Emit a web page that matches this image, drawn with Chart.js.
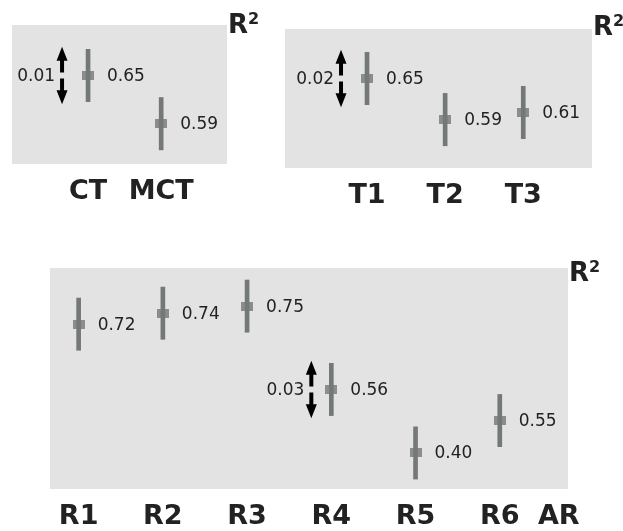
<!DOCTYPE html>
<html>
<head>
<meta charset="utf-8">
<script src="https://cdn.jsdelivr.net/npm/chart.js@4.4.1/dist/chart.umd.min.js"></script>
<style>
    html, body { margin: 0; padding: 0; background: #fff; width: 623px; height: 531px; overflow: hidden; position: relative; }
    canvas { position: absolute; }
</style>
</head>
<body>
<canvas id="p1" width="270" height="219" style="left:0;top:0"></canvas>
<canvas id="p2" width="353" height="223" style="left:270px;top:0"></canvas>
<canvas id="p3" width="623" height="304" style="left:0;top:240px"></canvas>
<script>
// panel 1
const ctCats = ['CT', 'MCT']
const ctSlots = [0, 1]
const ctLevel = [3.38, 1.54]
const ctR2 = [0.65, 0.59]

// panel 2
const tCats = ['T1', 'T2', 'T3']
const tSlots = [0, 1, 2]
const tLevel = [3.42, 1.85, 2.12]
const tR2 = [0.65, 0.59, 0.61]

// panel 3 (AR has no estimate)
const rCats = ['R1', 'R2', 'R3', 'R4', 'R5', 'R6', 'AR']
const rSlots = [0, 1, 2, 3, 4, 5, 5.7]
const rLevel = [6.31, 6.73, 7.0, 3.81, 1.38, 2.62]
const rR2 = [0.72, 0.74, 0.75, 0.56, 0.40, 0.55]

// error bar half width, same unit as the levels
const spread = 1

// R² differences marked with the double arrow
const diffLabels = ['0.01', '0.02', '0.03']
const diffIndex = [0, 0, 3]

const FONT = '"DejaVu Sans", Verdana, sans-serif'
const INK = '#222'

// flat grey marker, a bit wider than tall
const marker = document.createElement('canvas')
marker.width = 12
marker.height = 9
const mctx = marker.getContext('2d')
mctx.fillStyle = '#8c8c8c'
mctx.fillRect(0, 0, 12, 9)

const panelDecor = {
    id: 'panelDecor',
    beforeDraw: (chart) => {
        const { ctx, chartArea: a } = chart
        ctx.save()
        ctx.fillStyle = '#e3e3e3'
        ctx.fillRect(a.left, a.top, a.right - a.left, a.bottom - a.top)
        ctx.restore()
    },
    afterDatasetsDraw: (chart, args, opts) => {
        const { ctx, chartArea: a, scales: { x, y } } = chart
        const points = chart.getDatasetMeta(1).data
        ctx.save()

        // R² value next to each estimate
        ctx.font = `17px ${FONT}`
        ctx.fillStyle = INK
        ctx.textBaseline = 'middle'
        ctx.textAlign = 'left'
        points.forEach((pt, i) => ctx.fillText(opts.values[i].toFixed(2), pt.x + 19, pt.y + 1))

        // double arrow with the difference
        const i = opts.diffAt
        const ax = x.getPixelForValue(opts.slots[i]) - opts.gap
        const top = y.getPixelForValue(opts.levels[i] + spread * 1.1)
        const bot = y.getPixelForValue(opts.levels[i] - spread * 1.1)
        const mid = (top + bot) / 2
        ctx.strokeStyle = '#000'
        ctx.fillStyle = '#000'
        ctx.lineWidth = 4
        ctx.beginPath()
        ctx.moveTo(ax, top + 10)
        ctx.lineTo(ax, mid - 3)
        ctx.moveTo(ax, mid + 3)
        ctx.lineTo(ax, bot - 10)
        ctx.stroke()
        ctx.beginPath()
        ctx.moveTo(ax, top)
        ctx.lineTo(ax - 5.5, top + 14)
        ctx.lineTo(ax + 5.5, top + 14)
        ctx.closePath()
        ctx.moveTo(ax, bot)
        ctx.lineTo(ax - 5.5, bot - 14)
        ctx.lineTo(ax + 5.5, bot - 14)
        ctx.closePath()
        ctx.fill()
        ctx.font = `17px ${FONT}`
        ctx.fillStyle = INK
        ctx.textAlign = 'right'
        ctx.fillText(opts.diffText, ax - 7, mid + 1)

        // R² heading at the top right corner
        ctx.textAlign = 'left'
        ctx.textBaseline = 'alphabetic'
        ctx.font = `bold 26px ${FONT}`
        ctx.fillText('R', a.right + 1, a.top + opts.lift)
        const w = ctx.measureText('R').width
        ctx.font = `bold 16px ${FONT}`
        ctx.fillText('2', a.right + 1 + w, a.top + opts.lift - 9)
        ctx.restore()
    }
}

const makePanel = (id, cats, slots, levels, values, xRange, yMax, padding, diff, lift, gap) => {
    const n = levels.length
    return new Chart(document.getElementById(id), {
        type: 'bar',
        data: {
            datasets: [
                {
                    type: 'bar',
                    data: levels.map((v, i) => ({ x: slots[i], y: [v - spread, v + spread] })),
                    backgroundColor: '#747878',
                    barThickness: 4,
                    order: 0
                },
                {
                    type: 'scatter',
                    data: levels.map((v, i) => ({ x: slots[i], y: v })),
                    pointStyle: marker,
                    pointRadius: 6,
                    borderWidth: 0,
                    order: 1
                }
            ]
        },
        options: {
            responsive: false,
            animation: false,
            events: [],
            layout: { padding },
            plugins: {
                legend: { display: false },
                tooltip: { enabled: false },
                panelDecor: {
                    values,
                    slots: slots.slice(0, n),
                    levels,
                    diffAt: diffIndex[diff],
                    diffText: diffLabels[diff],
                    lift,
                    gap
                }
            },
            scales: {
                x: {
                    type: 'linear',
                    offset: false,
                    min: xRange[0],
                    max: xRange[1],
                    grid: { display: false, drawTicks: false },
                    border: { display: false },
                    afterBuildTicks: scale => { scale.ticks = slots.map(v => ({ value: v })) },
                    ticks: {
                        autoSkip: false,
                        maxRotation: 0,
                        padding: 14,
                        color: INK,
                        font: { family: FONT, weight: 'bold', size: 27, lineHeight: 1 },
                        callback: (v, i) => cats[i]
                    }
                },
                y: { display: false, min: 0, max: yMax }
            }
        },
        plugins: [panelDecor]
    })
}

makePanel('p1', ctCats, ctSlots, ctLevel, ctR2, [-1.04, 1.9], 5.31, { left: 12, top: 25, right: 43, bottom: 0 }, 0, 8, 26)
makePanel('p2', tCats, tSlots, tLevel, tR2, [-1.05, 2.88], 5.31, { left: 15, top: 29, right: 31, bottom: 0 }, 1, 6, 26)
makePanel('p3', rCats, rSlots, rLevel, rR2, [-0.34, 5.81], 8.46, { left: 50, top: 28, right: 55, bottom: 0 }, 2, 13, 20)
</script>
</body>
</html>
